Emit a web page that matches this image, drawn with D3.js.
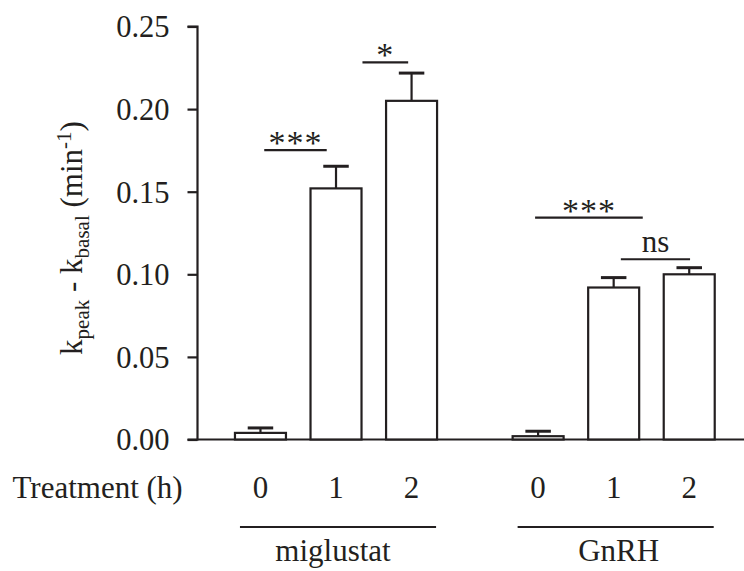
<!DOCTYPE html>
<html>
<head>
<meta charset="utf-8">
<script src="https://cdn.jsdelivr.net/npm/d3@7"></script>
</head>
<body style="margin:0;padding:0;background:#fff">
<svg id="chart" width="744" height="571" style="display:block"></svg>
<script>
// ---- data ----
const groups = ["miglustat", "GnRH"];
const treatments = ["0", "1", "2"];
const miglustatMean = [0.004, 0.152, 0.205];
const miglustatSEM  = [0.003, 0.0134, 0.0168];
const gnrhMean = [0.002, 0.092, 0.100];
const gnrhSEM  = [0.003, 0.006, 0.004];
const yTicks = [0.00, 0.05, 0.10, 0.15, 0.20, 0.25];
const sigLabels = ["***", "*", "***", "ns"];
const sigFrom = [0.05, 1.35, 3.635, 4.77];   // position units
const sigTo   = [0.877, 1.955, 5.06, 5.686];
const sigY    = [0.1752, 0.2283, 0.1343, 0.1091];

// ---- layout ----
const ink = "#231f20";
const FONT = '"Liberation Serif"';
const groupOffset = 3.675;
const barW = 0.675;
const bars = [];
[miglustatMean, gnrhMean].forEach((arr, gi) => {
  const sem = gi === 0 ? miglustatSEM : gnrhSEM;
  arr.forEach((v, ti) => bars.push({ g: gi, t: ti, pos: gi * groupOffset + ti, v, e: sem[ti] }));
});

const svg = d3.select("#chart");
const x = d3.scaleLinear().domain([-0.84, 6.4]).range([197, 744]);
const y = d3.scaleLinear().domain([0, 0.25]).range([439.5, 26.5]);
const unit = x(1) - x(0);

function txt(sel) { return sel.style("font-family", FONT).attr("fill", ink); }

// y axis
const yAxis = d3.axisLeft(y).tickValues(yTicks).tickFormat(d3.format(".2f")).tickSize(10).tickPadding(18);
const gy = svg.append("g").attr("transform", "translate(197.5,0)").call(yAxis);
gy.attr("font-family", null).attr("font-size", null);
gy.select(".domain").attr("stroke", ink).attr("stroke-width", 2.2).attr("d", `M-10,${y(0.25)}H0V${y(0)}H-10`);
gy.selectAll(".tick line").attr("stroke", ink).attr("stroke-width", 2.2);
txt(gy.selectAll(".tick text")).attr("font-size", 30.5).attr("dy", "0.34em");

// x axis baseline
svg.append("line").attr("x1", 197).attr("x2", 744).attr("y1", y(0)).attr("y2", y(0))
  .attr("stroke", ink).attr("stroke-width", 2.2);

// bars
svg.append("g").selectAll("rect").data(bars).join("rect")
  .attr("x", d => x(d.pos) - unit * barW / 2)
  .attr("width", unit * barW)
  .attr("y", d => y(d.v))
  .attr("height", d => y(0) - y(d.v))
  .attr("fill", "#fff").attr("stroke", ink).attr("stroke-width", 2.2);

// error bars (upper)
const eg = svg.append("g").attr("stroke", ink).attr("stroke-width", 2.2);
eg.selectAll("line.v").data(bars).join("line").attr("class", "v")
  .attr("x1", d => x(d.pos)).attr("x2", d => x(d.pos))
  .attr("y1", d => y(d.v)).attr("y2", d => y(d.v + d.e));
eg.selectAll("line.c").data(bars).join("line").attr("class", "c")
  .attr("x1", d => x(d.pos) - unit * barW / 4).attr("x2", d => x(d.pos) + unit * barW / 4)
  .attr("y1", d => y(d.v + d.e)).attr("y2", d => y(d.v + d.e))
  .attr("stroke-width", 3);

// significance
const sig = sigLabels.map((l, i) => ({ l, a: sigFrom[i], b: sigTo[i], yv: sigY[i] }));
const sg = svg.append("g");
sg.selectAll("line").data(sig).join("line")
  .attr("x1", d => x(d.a)).attr("x2", d => x(d.b))
  .attr("y1", d => y(d.yv)).attr("y2", d => y(d.yv))
  .attr("stroke", ink).attr("stroke-width", 2.2);
txt(sg.selectAll("text").data(sig).join("text"))
  .attr("x", d => (x(d.a) + x(d.b)) / 2)
  .attr("y", d => d.l === "ns" ? y(d.yv) - 7.5 : y(d.yv) + 4)
  .attr("text-anchor", "middle")
  .attr("font-size", d => d.l === "ns" ? 31 : 34)
  .attr("letter-spacing", d => d.l === "ns" ? 0 : 1)
  .text(d => d.l);

// treatment labels
txt(svg.append("text")).attr("x", 12.5).attr("y", 498).attr("font-size", 31).text("Treatment (h)");
txt(svg.append("g").selectAll("text").data(bars).join("text"))
  .attr("x", d => x(d.pos)).attr("y", 498).attr("text-anchor", "middle")
  .attr("font-size", 31).text(d => treatments[d.t]);

// group lines & labels
groups.forEach((gname, gi) => {
  const p0 = gi * groupOffset, p2 = gi * groupOffset + 2;
  const x1 = x(p0) - 20.5, x2 = x(p2) + unit * barW / 2 - 1;
  svg.append("line").attr("x1", x1).attr("x2", x2).attr("y1", 527).attr("y2", 527)
    .attr("stroke", ink).attr("stroke-width", 2.2);
  txt(svg.append("text")).attr("x", x(gi * groupOffset + 1) + (gi ? 5 : -3)).attr("y", 561)
    .attr("text-anchor", "middle").attr("font-size", 31).text(gname);
});

// y label
const yl = txt(svg.append("text")).attr("transform", "translate(82,238) rotate(-90)")
  .attr("text-anchor", "middle").attr("font-size", 31);
yl.append("tspan").text("k");
yl.append("tspan").attr("font-size", 21).attr("dy", 7).text("peak");
yl.append("tspan").attr("dy", -7).text(" - k");
yl.append("tspan").attr("font-size", 21).attr("dy", 7).text("basal");
yl.append("tspan").attr("dy", -7).text(" (min");
yl.append("tspan").attr("font-size", 21).attr("dy", -11).text("-1");
yl.append("tspan").attr("dy", 11).text(")");
</script>
</body>
</html>
